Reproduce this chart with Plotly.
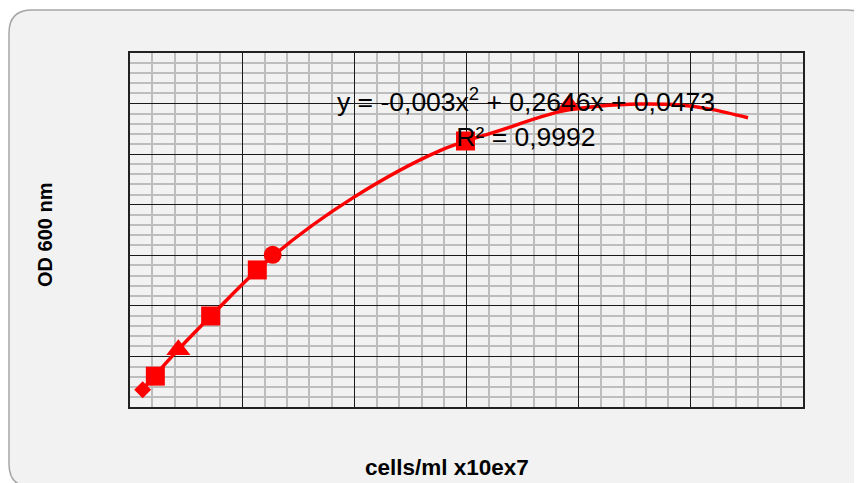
import plotly.graph_objects as go

# ---- data ----
cells = [1.13, 2.26, 4.31, 7.19, 11.35, 12.72, 29.91, 39.14]
od600 = [0.34, 0.61, 1.13, 1.80, 2.71, 3.01, 5.26, 5.97]
symbols = ["diamond", "square", "triangle-up", "square", "square", "circle", "square", "triangle-up"]
sizes = [13, 19, 21, 19, 19, 18, 19, 21]

curve_x = [1.16, 4.28, 7.22, 12.66, 19.97, 27.64, 32.99, 38.33, 41.90, 45.47, 49.03, 51.70, 55.10]
curve_y = [0.36, 1.13, 1.80, 2.97, 4.15, 5.07, 5.47, 5.84, 5.95, 5.99, 5.97, 5.89, 5.72]

equation = "y = -0,003x<sup>2</sup> + 0,2646x + 0,0473<br>R² = 0,9992"
x_title = "cells/ml x10ex7"
y_title = "OD 600 nm"

# ---- layout geometry (window pixel coords; page body has an 8px margin) ----
OFF = 8
W, H = 862 - OFF, 483 - OFF
L, R, T, B = 130, 803, 53, 407


def fx(px):
    return (px - L) / (R - L)


def fy(py):
    return (B - py) / (B - T)


# rounded background box (pixel coords -> paper coords)
x0, y0, x1, y1, rr = 9, 10, 870, 487, 23
path = (
    f"M {fx(x0 + rr)},{fy(y0)} L {fx(x1 - rr)},{fy(y0)} "
    f"Q {fx(x1)},{fy(y0)} {fx(x1)},{fy(y0 + rr)} "
    f"L {fx(x1)},{fy(y1 - rr)} Q {fx(x1)},{fy(y1)} {fx(x1 - rr)},{fy(y1)} "
    f"L {fx(x0 + rr)},{fy(y1)} Q {fx(x0)},{fy(y1)} {fx(x0)},{fy(y1 - rr)} "
    f"L {fx(x0)},{fy(y0 + rr)} Q {fx(x0)},{fy(y0)} {fx(x0 + rr)},{fy(y0)} Z"
)

fig = go.Figure()

fig.add_trace(go.Scatter(
    x=curve_x, y=curve_y, mode="lines",
    line=dict(color="#ff0000", width=3.5, shape="spline", smoothing=1.0),
    hoverinfo="skip", showlegend=False,
))

fig.add_trace(go.Scatter(
    x=cells, y=od600, mode="markers",
    marker=dict(color="#ff0000", symbol=symbols, size=sizes, opacity=1,
                line=dict(width=0)),
    showlegend=False,
))

fig.add_shape(type="path", path=path, xref="paper", yref="paper",
              fillcolor="#f2f2f2", line=dict(color="#a6a6a6", width=1.5),
              layer="below")

fig.add_annotation(
    x=fx(526), y=fy(117), xref="paper", yref="paper",
    xanchor="center", yanchor="middle",
    text=equation, showarrow=False, align="center",
    font=dict(family="Liberation Sans, Arial", size=26.5, color="#000000"),
)

fig.add_annotation(
    x=fx(447), y=fy(467), xref="paper", yref="paper",
    xanchor="center", yanchor="middle",
    text=f"<b>{x_title}</b>", showarrow=False,
    font=dict(family="Liberation Sans, Arial", size=22.5, color="#000000"),
)

fig.add_annotation(
    x=fx(45), y=fy(235), xref="paper", yref="paper",
    xanchor="center", yanchor="middle",
    text=f"<b>{y_title}</b>", showarrow=False, textangle=-90,
    font=dict(family="Liberation Sans, Arial", size=20, color="#000000"),
)

axis_common = dict(
    showticklabels=False, ticks="", zeroline=False,
    showline=True, linecolor="#222222", linewidth=1.5, mirror=True,
    showgrid=True, gridcolor="#1a1a1a", gridwidth=1.3,
)

fig.update_xaxes(range=[0, 60], dtick=10, tick0=0,
                 minor=dict(dtick=2, showgrid=True, gridcolor="#bdbdbd", gridwidth=1.6),
                 **axis_common)
fig.update_yaxes(range=[0, 7], dtick=1, tick0=0,
                 minor=dict(dtick=0.2, showgrid=True, gridcolor="#bdbdbd", gridwidth=1.6),
                 **axis_common)

fig.update_layout(
    width=W, height=H,
    margin=dict(l=L - OFF, r=862 - R, t=T - OFF, b=483 - B, pad=0),
    paper_bgcolor="#ffffff", plot_bgcolor="#d9d9d9",
    showlegend=False,
)

fig.write_html("out.html")
